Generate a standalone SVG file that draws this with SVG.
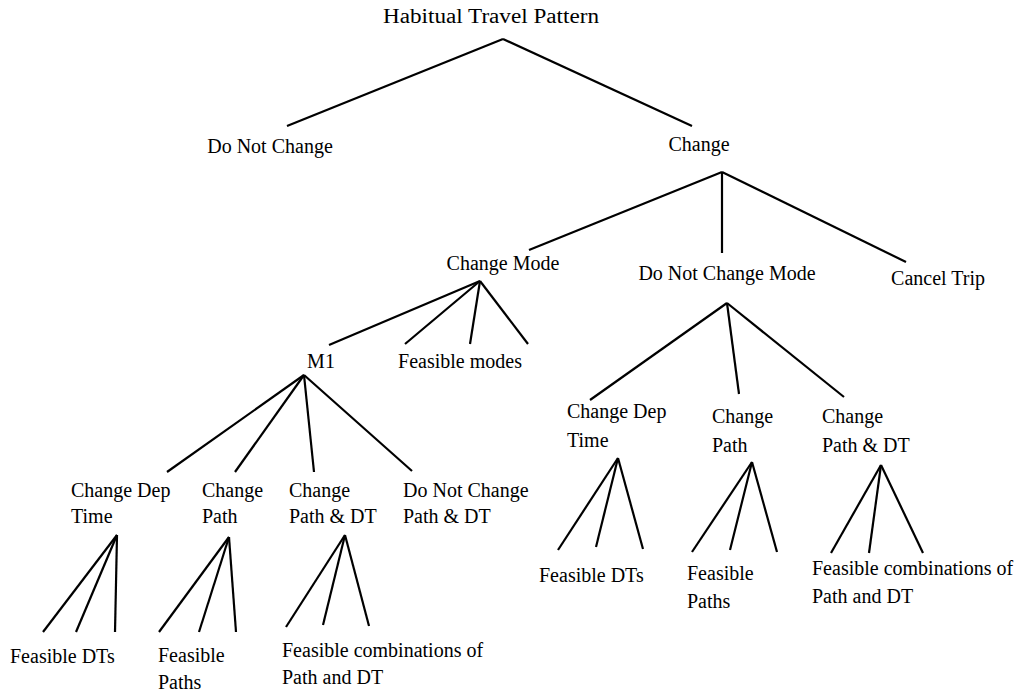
<svg xmlns="http://www.w3.org/2000/svg" width="1016" height="694" viewBox="0 0 1016 694">
  <style>
    text { font-family: "Liberation Serif", "DejaVu Serif", serif; font-size: 20px; fill: #000; }
    .c { text-anchor: middle; }
    .edges line { stroke: #000; stroke-width: 2.2; stroke-linecap: butt; }
  </style>
  <rect width="1016" height="694" fill="#fff"/>

  <!-- connectors: each fan starts at the parent label's apex -->
  <g id="connectors" class="edges">
    <line x1="503" y1="39" x2="287" y2="126"/>
    <line x1="503" y1="39" x2="692" y2="126"/>

    <line x1="722" y1="172" x2="529" y2="250"/>
    <line x1="722" y1="172" x2="722" y2="253"/>
    <line x1="722" y1="172" x2="906" y2="262"/>

    <line x1="480" y1="281" x2="329" y2="345"/>
    <line x1="480" y1="281" x2="405" y2="344"/>
    <line x1="480" y1="281" x2="470" y2="344"/>
    <line x1="480" y1="281" x2="528" y2="344"/>

    <line x1="727" y1="303" x2="590" y2="400"/>
    <line x1="727" y1="303" x2="739" y2="394"/>
    <line x1="727" y1="303" x2="844" y2="397"/>

    <line x1="304" y1="375" x2="167" y2="472"/>
    <line x1="304" y1="375" x2="235" y2="472"/>
    <line x1="304" y1="375" x2="314" y2="472"/>
    <line x1="304" y1="375" x2="412" y2="471"/>

    <line x1="117" y1="535" x2="43" y2="632"/>
    <line x1="117" y1="535" x2="76" y2="632"/>
    <line x1="117" y1="535" x2="115" y2="632"/>

    <line x1="229" y1="537" x2="159" y2="632"/>
    <line x1="229" y1="537" x2="199" y2="632"/>
    <line x1="229" y1="537" x2="236" y2="632"/>

    <line x1="345" y1="535" x2="286" y2="627"/>
    <line x1="345" y1="535" x2="323" y2="625"/>
    <line x1="345" y1="535" x2="369" y2="626"/>

    <line x1="618" y1="458" x2="558" y2="550"/>
    <line x1="618" y1="458" x2="596" y2="547"/>
    <line x1="618" y1="458" x2="643" y2="549"/>

    <line x1="752" y1="462" x2="692" y2="552"/>
    <line x1="752" y1="462" x2="730" y2="550"/>
    <line x1="752" y1="462" x2="777" y2="552"/>

    <line x1="881" y1="465" x2="831" y2="553"/>
    <line x1="881" y1="465" x2="869" y2="553"/>
    <line x1="881" y1="465" x2="923" y2="553"/>
  </g>

  <!-- level 0 -->
  <g id="habitual-travel-pattern"><text class="c" x="491" y="23" textLength="216" lengthAdjust="spacingAndGlyphs">Habitual Travel Pattern</text></g>

  <!-- level 1 -->
  <g id="do-not-change"><text class="c" x="270" y="153">Do Not Change</text></g>
  <g id="change"><text class="c" x="699" y="151">Change</text></g>

  <!-- level 2 -->
  <g id="change-mode"><text class="c" x="503" y="270">Change Mode</text></g>
  <g id="do-not-change-mode"><text class="c" x="727" y="280">Do Not Change Mode</text></g>
  <g id="cancel-trip"><text class="c" x="938" y="285">Cancel Trip</text></g>

  <!-- level 3 -->
  <g id="m1"><text class="c" x="321" y="368">M1</text></g>
  <g id="feasible-modes"><text class="c" x="460" y="368">Feasible modes</text></g>

  <!-- M1 options -->
  <g id="m1-change-dep-time"><text x="71" y="497">Change Dep</text><text x="71" y="523">Time</text></g>
  <g id="m1-change-path"><text x="202" y="497">Change</text><text x="202" y="523">Path</text></g>
  <g id="m1-change-path-dt"><text x="289" y="497">Change</text><text x="289" y="523">Path &amp; DT</text></g>
  <g id="m1-no-change-path-dt"><text x="403" y="497">Do Not Change</text><text x="403" y="523">Path &amp; DT</text></g>

  <!-- M1 leaves -->
  <g id="m1-feasible-dts"><text x="10" y="663">Feasible DTs</text></g>
  <g id="m1-feasible-paths"><text x="158" y="662">Feasible</text><text x="158" y="689">Paths</text></g>
  <g id="m1-feasible-combos"><text x="282" y="657">Feasible combinations of</text><text x="282" y="684">Path and DT</text></g>

  <!-- same-mode options -->
  <g id="sm-change-dep-time"><text x="567" y="418">Change Dep</text><text x="567" y="447">Time</text></g>
  <g id="sm-change-path"><text x="712" y="423">Change</text><text x="712" y="452">Path</text></g>
  <g id="sm-change-path-dt"><text x="822" y="423">Change</text><text x="822" y="452">Path &amp; DT</text></g>

  <!-- same-mode leaves -->
  <g id="sm-feasible-dts"><text x="539" y="582">Feasible DTs</text></g>
  <g id="sm-feasible-paths"><text x="687" y="580">Feasible</text><text x="687" y="608">Paths</text></g>
  <g id="sm-feasible-combos"><text x="812" y="575">Feasible combinations of</text><text x="812" y="603">Path and DT</text></g>
</svg>
